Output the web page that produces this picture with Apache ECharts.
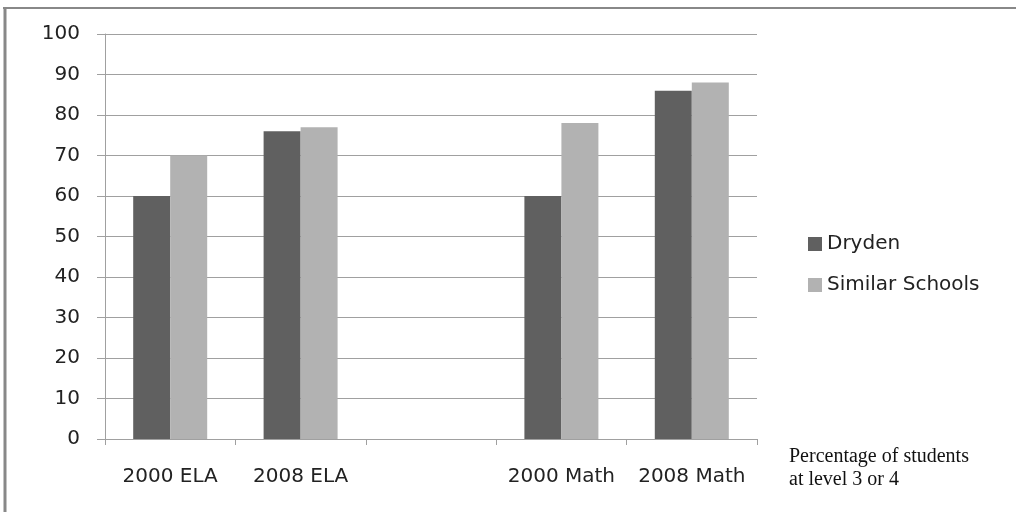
<!DOCTYPE html>
<html>
<head>
<meta charset="utf-8">
<title>Dryden vs Similar Schools</title>
<script src="https://cdn.jsdelivr.net/npm/echarts@6/dist/echarts.min.js"></script>
<style>
html,body{margin:0;padding:0;background:#fff}
#chart_main{width:1016px;height:512px}
</style>
</head>
<body>
<div id="chart_main"></div>
<script type="text/javascript">
// data
var categories = ['2000 ELA', '2008 ELA', '', '2000 Math', '2008 Math'];
var dryden = [60, 76, null, 60, 86];
var similar = [70, 77, null, 78, 88];
var seriesNames = ['Dryden', 'Similar Schools'];
var noteLines = ['Percentage of students', 'at level 3 or 4'];

var font = '"DejaVu Sans", sans-serif';
var gridColor = '#a0a0a0';

var myChart = echarts.init(document.getElementById('chart_main'));
var option = {
	animation: false,
	backgroundColor: '#fff',
	grid: {left: 105, right: 259, top: 34, bottom: 73, containLabel: false},
	legend: {
		orient: 'vertical',
		left: 803,
		top: 229,
		itemWidth: 14,
		itemHeight: 14,
		itemGap: 21,
		icon: 'rect',
		textStyle: {fontFamily: font, fontSize: 20, color: '#222'},
		data: seriesNames
	},
	xAxis: {
		type: 'category',
		data: categories,
		axisLine: {show: true, lineStyle: {color: gridColor, width: 1}},
		axisTick: {show: true, alignWithLabel: false, length: 6, lineStyle: {color: gridColor}},
		axisLabel: {margin: 28, fontFamily: font, fontSize: 20, color: '#222', interval: 0}
	},
	yAxis: {
		type: 'value',
		min: 0,
		max: 100,
		interval: 10,
		axisLine: {show: true, lineStyle: {color: gridColor, width: 1}},
		axisTick: {show: true, length: 8, lineStyle: {color: gridColor}},
		axisLabel: {margin: 25, fontFamily: font, fontSize: 20, color: '#222'},
		splitLine: {show: true, lineStyle: {color: gridColor, width: 1}}
	},
	series: [
		{
			name: seriesNames[0],
			type: 'bar',
			data: dryden,
			barWidth: 37,
			barGap: '0%',
			itemStyle: {color: '#606060'}
		},
		{
			name: seriesNames[1],
			type: 'bar',
			data: similar,
			barWidth: 37,
			barGap: '0%',
			itemStyle: {color: '#b2b2b2'}
		}
	],
	graphic: [
		// frame: only top and left edges are visible in the picture
		{
			type: 'line',
			shape: {x1: 3, y1: 8, x2: 1016, y2: 8},
			style: {stroke: '#888', lineWidth: 2},
			silent: true
		},
		{
			type: 'line',
			shape: {x1: 5, y1: 7, x2: 5, y2: 512},
			style: {stroke: '#888', lineWidth: 3},
			silent: true
		},
		{
			type: 'text',
			left: 789,
			top: 445,
			style: {
				text: noteLines.join('\n'),
				font: '20px "Liberation Serif", "Times New Roman", serif',
				lineHeight: 23,
				fill: '#111'
			}
		}
	]
};
myChart.setOption(option);
</script>
</body>
</html>
